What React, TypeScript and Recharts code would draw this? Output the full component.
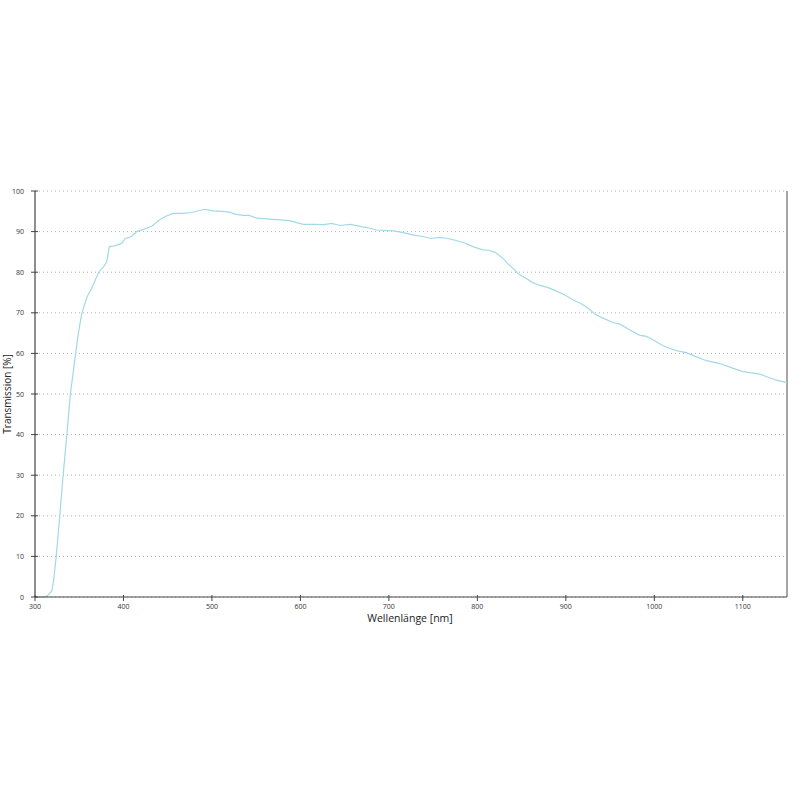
import React from 'react';
import { LineChart, Line, XAxis, YAxis, CartesianGrid, ReferenceLine } from 'recharts';

const wavelengths = [300, 311, 315, 319, 321, 324, 328, 331, 336, 340, 343, 346, 349, 353, 359, 364, 368, 372, 378, 381, 384, 390, 398, 402, 406, 410, 415, 422, 432, 441, 448, 456, 467, 477, 486, 492, 501, 512, 520, 526, 535, 542, 551, 569, 588, 596, 603, 618, 627, 635, 645, 656, 665, 675, 686, 705, 715, 727, 738, 748, 757, 767, 776, 786, 795, 806, 813, 820, 829, 835, 840, 847, 855, 862, 870, 880, 889, 898, 908, 917, 926, 934, 944, 953, 961, 972, 983, 991, 999, 1010, 1018, 1025, 1036, 1047, 1059, 1074, 1087, 1100, 1110, 1119, 1128, 1138, 1150];
const transmission = [0, 0, 0.5, 1.5, 4, 10, 20, 28, 40, 50, 55, 60, 65, 70, 74, 76, 78, 80, 81.5, 82.5, 86.3, 86.5, 87.1, 88.3, 88.5, 89, 90, 90.5, 91.3, 92.9, 93.8, 94.5, 94.5, 94.7, 95.2, 95.5, 95.1, 95, 94.8, 94.3, 94, 94, 93.3, 93.0, 92.7, 92.2, 91.8, 91.8, 91.7, 92, 91.5, 91.8, 91.4, 91, 90.4, 90.2, 89.8, 89.2, 88.8, 88.3, 88.6, 88.3, 87.8, 87.2, 86.3, 85.5, 85.4, 84.9, 83.4, 82, 81, 79.5, 78.5, 77.5, 76.8, 76.2, 75.4, 74.5, 73.2, 72.3, 71, 69.5, 68.5, 67.6, 67.2, 65.8, 64.5, 64.2, 63.3, 61.9, 61.2, 60.7, 60.2, 59.2, 58.2, 57.5, 56.5, 55.5, 55.2, 54.9, 54.2, 53.4, 52.8];
const xTicks = [300, 400, 500, 600, 700, 800, 900, 1000, 1100];
const yTicks = [0, 10, 20, 30, 40, 50, 60, 70, 80, 90, 100];

const data = wavelengths.map((wl, i) => ({ wl, t: transmission[i] }));

const FONT = '"Open Sans", "Noto Sans", sans-serif';
const AXIS = '#444';

const XTick = (props: any) => {
  const { x, y, payload } = props;
  return (
    <g>
      <line x1={x} y1={y - 2} x2={x} y2={y + 4} stroke={AXIS} strokeWidth={1} />
      <text x={x} y={y + 12} textAnchor="middle" fontSize={7} fill="#333" fontFamily={FONT}>
        {payload.value}
      </text>
    </g>
  );
};

const YTick = (props: any) => {
  const { x, y, payload } = props;
  return (
    <g>
      <line x1={x - 4} y1={y} x2={x + 3} y2={y} stroke={AXIS} strokeWidth={1} />
      <text x={x - 11} y={y + 2.5} textAnchor="end" fontSize={7} fill="#333" fontFamily={FONT}>
        {payload.value}
      </text>
    </g>
  );
};

export default function App() {
  return (
    <div style={{ position: 'absolute', left: 0, top: 0, width: 800, height: 800, background: '#fff' }}>
      <LineChart
        width={800}
        height={800}
        data={data}
        margin={{ top: 191, right: 13, bottom: 173, left: 0 }}
      >
        <CartesianGrid horizontal vertical={false} stroke="#b0b0b0" strokeDasharray="1 3" />
        <XAxis
          dataKey="wl"
          type="number"
          domain={[300, 1150]}
          ticks={xTicks}
          height={30}
          stroke={AXIS}
          strokeWidth={1.2}
          tickLine={false}
          tickSize={0}
          tickMargin={0}
          tick={<XTick />}
          interval={0}
          allowDataOverflow
        />
        <YAxis
          type="number"
          domain={[0, 100]}
          ticks={yTicks}
          width={35}
          stroke={AXIS}
          strokeWidth={1.2}
          tickLine={false}
          tickSize={0}
          tickMargin={0}
          tick={<YTick />}
          interval={0}
        />
        <ReferenceLine x={1150} stroke="#888" strokeWidth={1.5} />
        <Line
          type="linear"
          dataKey="t"
          stroke="#a3d8e6"
          strokeWidth={1.2}
          dot={false}
          isAnimationActive={false}
        />
        <text x={410} y={622} textAnchor="middle" fontSize={10.5} fill="#222" fontFamily={FONT}>
          Wellenlänge [nm]
        </text>
        <text
          x={11}
          y={394}
          textAnchor="middle"
          fontSize={10}
          fill="#222"
          fontFamily={FONT}
          transform="rotate(-90 11 394)"
        >
          Transmission [%]
        </text>
      </LineChart>
    </div>
  );
}
